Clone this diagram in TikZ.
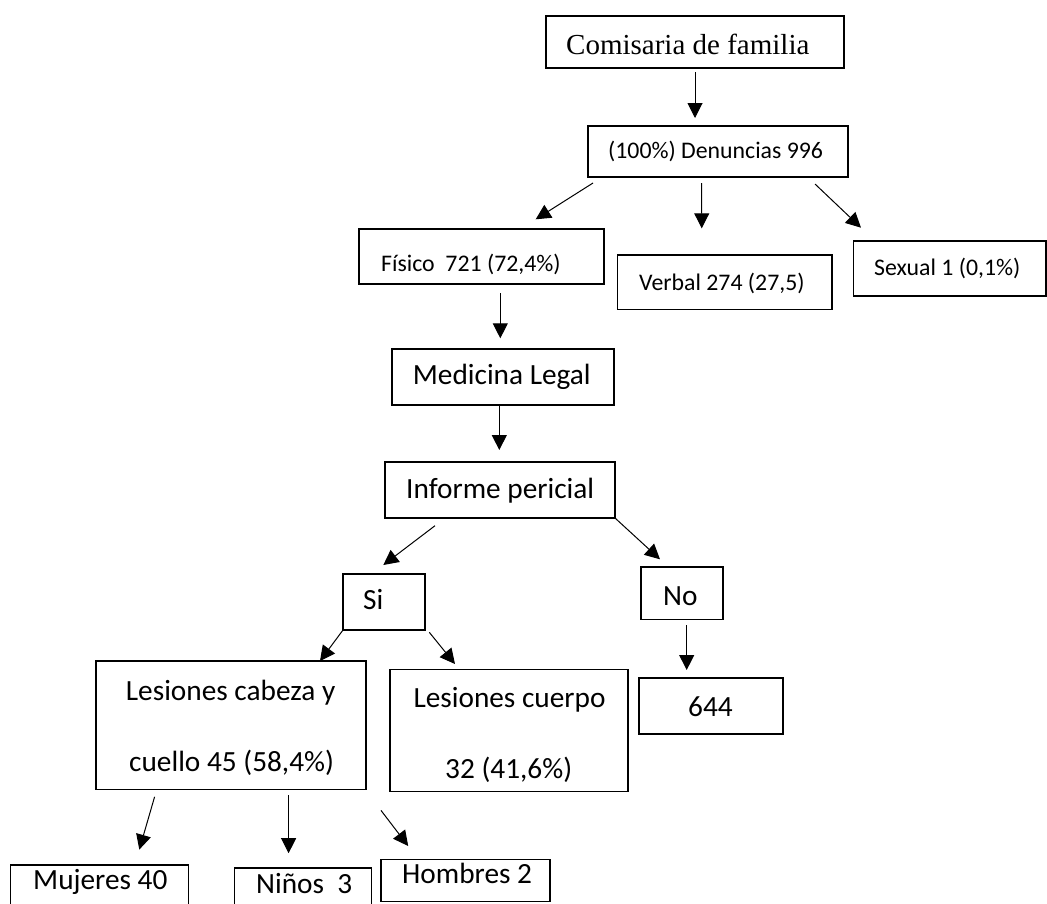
\documentclass[tikz,border=0pt]{standalone}
\usepackage{fontspec}
\setmainfont{Carlito}
\newfontfamily\serifx{Liberation Serif}
\usetikzlibrary{arrows.meta}
\begin{document}
\begin{tikzpicture}[x=1pt,y=-1pt,
  box/.style={draw, line width=1.1pt, inner sep=0pt, outer sep=0pt, rectangle},
  openbox/.style={inner sep=0pt, outer sep=0pt, rectangle},
  edge/.style={line width=1.1pt},
  conn/.style={line width=1pt, -{Triangle[length=15pt,width=15pt]}},
  txt/.style={anchor=base west, inner sep=0pt, font=\fontsize{23.8}{28}\selectfont},
  big/.style={anchor=base west, inner sep=0pt, font=\fontsize{29.3}{34}\selectfont},
  ser/.style={anchor=base west, inner sep=0pt, font=\serifx\fontsize{29}{34}\selectfont}]
\useasboundingbox (0,0) rectangle (1047,903);
\clip (0,0) rectangle (1047,903);
\fill[white] (0,0) rectangle (1047,903);

% boxes
\node[box, minimum width=298pt, minimum height=52pt] (com) at (695,42) {};
\node[box, minimum width=260pt, minimum height=51pt] (den) at (718,151.5) {};
\node[box, minimum width=245pt, minimum height=55pt] (fis) at (481.5,256.5) {};
\node[box, minimum width=214.5pt, minimum height=54.5pt] (ver) at (724.75,282.25) {};
\node[box, minimum width=192.5pt, minimum height=55pt] (sex) at (949.75,268.5) {};
\node[box, minimum width=222pt, minimum height=56pt] (med) at (503,377) {};
\node[box, minimum width=230pt, minimum height=56pt] (inf) at (500,490) {};
\node[box, minimum width=82pt, minimum height=56pt] (si) at (384,602) {};
\node[box, minimum width=82pt, minimum height=52.5pt] (no) at (682,593.25) {};
\node[box, minimum width=144pt, minimum height=56pt] (n644) at (711,706) {};
\node[box, minimum width=270pt, minimum height=128.5pt] (lcab) at (231,725.25) {};
\node[box, minimum width=238pt, minimum height=122pt] (lcue) at (509,730.5) {};
\node[openbox, minimum width=178pt, minimum height=50pt] (muj) at (99.65,890) {};
\node[openbox, minimum width=137pt, minimum height=47pt] (nin) at (303,891.5) {};
\node[box, minimum width=169pt, minimum height=42.2pt] (hom) at (465.5,880.4) {};
\draw[edge] (muj.south west) -- (muj.north west) -- (muj.north east) -- (muj.south east);
\draw[edge] (nin.south west) -- (nin.north west) -- (nin.north east) -- (nin.south east);

% texts
\node[ser] (tcom) at (566,54.3) {Comisaria de familia};
\node[txt] (tden) at (608,158.3) {(100\%) Denuncias 996};
\node[txt] (tfis) at (381,271.7) {Físico\ \ 721 (72,4\%)};
\node[txt] (tver) at (639,290) {Verbal 274 (27,5)};
\node[txt] (tsex) at (874,275) {Sexual 1 (0,1\%)};
\node[big] (tmed) at (412.7,384) {Medicina Legal};
\node[big] (tinf) at (406,498.3) {Informe pericial};
\node[big] (tsi) at (363,609) {Si};
\node[big] (tno) at (663,605) {No};
\node[big] (t644) at (688,716.7) {644};
\node[big] (tcab1) at (125.7,700) {Lesiones cabeza y};
\node[big] (tcab2) at (129,771.7) {cuello 45 (58,4\%)};
\node[big] (tcue1) at (413.3,707.3) {Lesiones cuerpo};
\node[big] (tcue2) at (445,778.3) {32 (41,6\%)};
\node[big] (tmuj) at (33,889.3) {Mujeres 40};
\node[big] (tnin) at (256,893.6) {Niños\ \ 3};
\node[big] (thom) at (402,883.6) {Hombres 2};

% connectors
\draw[conn] ([shift={(0,4)}]com.south) -- ([shift={(-23,-8)}]den.north);
\draw[conn] ([shift={(5,6)}]den.south west) -- ([shift={(54.2,-9.7)}]fis.north);
\draw[conn] ([shift={(-16.3,6)}]den.south) -- ([shift={(-23,-26.7)}]ver.north);
\draw[conn] ([shift={(-33,7)}]den.south east) -- ([shift={(7.5,-13.3)}]sex.north west);
\draw[conn] ([shift={(18.8,9.3)}]fis.south) -- ([shift={(-2.7,-10.7)}]med.north);
\draw[conn] ([shift={(-3.7,0)}]med.south) -- ([shift={(-0.7,-12)}]inf.north);
\draw[conn] ([shift={(-65,7.7)}]inf.south) -- ([shift={(-0.7,-9)}]si.north);
\draw[conn] (inf.south east) -- ([shift={(19,-7.7)}]no.north west);
\draw[conn] ([shift={(4.7,5.5)}]no.south) -- ([shift={(-24.3,-8)}]n644.north);
\draw[conn] (si.south west) -- ([shift={(-46,0)}]lcab.north east);
\draw[conn] ([shift={(4.3,2.3)}]si.south east) -- ([shift={(65,-5.5)}]lcue.north west);
\draw[conn] ([shift={(58.6,7.3)}]lcab.south west) -- ([shift={(39.65,-15.4)}]muj.north);
\draw[conn] ([shift={(57.6,5.5)}]lcab.south) -- ([shift={(-14.4,-14.8)}]nin.north);
\draw[conn] ([shift={(15,20.9)}]lcab.south east) -- ([shift={(27.2,-13.3)}]hom.north west);
\end{tikzpicture}
\end{document}
